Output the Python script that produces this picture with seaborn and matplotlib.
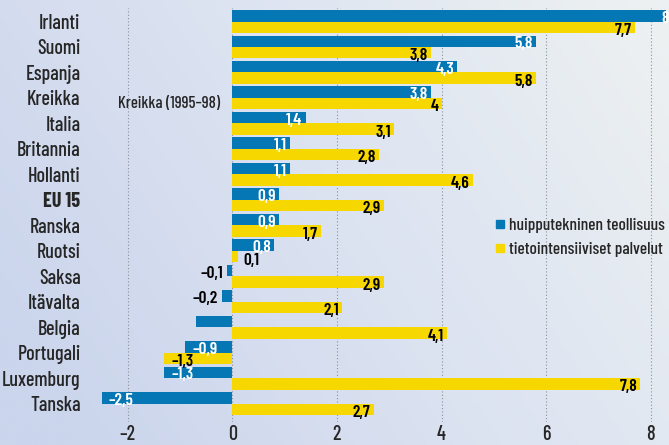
import numpy as np
import pandas as pd
import matplotlib.pyplot as plt
import matplotlib.colors as mcolors
from matplotlib.lines import Line2D
import seaborn as sns

# Data (average annual change, %)
maat = ['Irlanti', 'Suomi', 'Espanja', 'Kreikka', 'Italia', 'Britannia', 'Hollanti', 'EU 15',
        'Ranska', 'Ruotsi', 'Saksa', 'Itävalta', 'Belgia', 'Portugali', 'Luxemburg', 'Tanska']
teollisuus = [8.3, 5.8, 4.3, 3.8, 1.4, 1.1, 1.1, 0.9, 0.9, 0.8, -0.1, -0.2, -0.7, -0.9, -1.3, -2.5]
palvelut = [7.7, 3.8, 5.8, 4.0, 3.1, 2.8, 4.6, 2.9, 1.7, 0.1, 2.9, 2.1, 4.1, -1.3, 7.8, 2.7]
teollisuus_teksti = ['8', '5,8', '4,3', '3,8', '1,4', '1,1', '1,1', '0,9', '0,9', '0,8',
                     '–0,1', '–0,2', '', '–0,9', '–1,3', '–2,5']
palvelut_teksti = ['7,7', '3,8', '5,8', '4', '3,1', '2,8', '4,6', '2,9', '1,7', '0,1',
                   '2,9', '2,1', '4,1', '–1,3', '7,8', '2,7']
sarjat = ['huipputekninen teollisuus', 'tietointensiiviset palvelut']
x_ticks = [-2, 0, 2, 4, 6, 8]

blue = '#0577b5'
yellow = '#f7d700'

df = pd.DataFrame({
    'maa': maat * 2,
    'arvo': teollisuus + palvelut,
    'sarja': [sarjat[0]] * len(maat) + [sarjat[1]] * len(maat),
})

sns.set_style('white')
plt.rcParams['font.family'] = ['Barlow Condensed', 'DejaVu Sans']

fig = plt.figure(figsize=(6.69, 4.45), dpi=100)

# soft blue background gradient
bg = fig.add_axes([0, 0, 1, 1], zorder=-2)
gx, gy = np.meshgrid(np.linspace(0, 1, 200), np.linspace(0, 1, 200))
t = np.clip(0.8 * gx + 0.35 * gy - 0.1, 0, 1)
cmap = mcolors.LinearSegmentedColormap.from_list('bg', ['#cbd5ec', '#dce3f1', '#ecf0f1'])
bg.imshow(t, cmap=cmap, aspect='auto', extent=[0, 1, 0, 1], origin='lower')
bg.axis('off')

ax = fig.add_axes([100 / 669, 23 / 445, 569 / 669, 414 / 445])
ax.patch.set_alpha(0)
sns.barplot(data=df, y='maa', x='arvo', hue='sarja', orient='h', palette=[blue, yellow],
            saturation=1, width=0.9, legend=False, ax=ax, zorder=2,
            edgecolor='none', linewidth=0)

ax.set_xlim(-2.53, 8.35)
ax.set_ylim(15.72, -0.53)
ax.set_xticks(x_ticks)
ax.set_xticklabels([f'{v}'.replace('-', '–') for v in x_ticks], fontsize=14.5, fontweight='medium')
ax.set_xlabel('')
ax.set_ylabel('')
ax.tick_params(axis='both', length=0)
ax.tick_params(axis='y', pad=14)
ax.tick_params(axis='x', pad=2)
ax.set_yticks(range(len(maat)))
ax.set_yticklabels(maat, fontsize=14.5, fontweight='medium')
for lbl in ax.get_yticklabels():
    if lbl.get_text() == 'EU 15':
        lbl.set_fontweight('bold')
for s in ax.spines.values():
    s.set_visible(False)
ax.grid(False)
for v in x_ticks:
    ax.axvline(v, color='#8a8f99', linestyle=(0, (1, 2)), linewidth=0.8, zorder=1)

# value labels
fs = 12.5
kw = dict(va='center', fontsize=fs, fontweight='semibold')
for i in range(len(maat)):
    yb, yy = i - 0.225 + 0.1, i + 0.225 + 0.12
    v, txt = teollisuus[i], teollisuus_teksti[i]
    if txt:
        if i == 0:
            ax.text(8.2, yb, txt, color='white', ha='left', **kw)
        elif v >= 0.5:
            ax.text(v - 0.06, yb, txt, color='white', ha='right', **kw)
        elif v > -0.5:
            ax.text(v - 0.08, yb, txt, color='black', ha='right', **kw)
        else:
            ax.text(v + 0.13, yb, txt, color='white', ha='left', **kw)
    v, txt = palvelut[i], palvelut_teksti[i]
    if v >= 0.5:
        ax.text(v - 0.06, yy, txt, color='black', ha='right', **kw)
    elif v >= 0:
        ax.text(v + 0.12, yy + 0.05, txt, color='black', ha='left', **kw)
    else:
        ax.text(v + 0.13, yy, txt, color='black', ha='left', **kw)

ax.text(-1.2, 3.2, 'Kreikka (1995–98)', ha='center', va='center', fontsize=12, fontweight='medium')

handles = [Line2D([], [], marker='s', linestyle='', color=c, markersize=6) for c in [blue, yellow]]
ax.legend(handles, sarjat, loc='upper left', bbox_to_anchor=(0.682, 0.51), frameon=False,
          prop={'size': 12.5, 'weight': 'medium'}, handlelength=0.6, handletextpad=0.2,
          labelspacing=0.5, borderaxespad=0)

fig.savefig('out.png', dpi=100)
